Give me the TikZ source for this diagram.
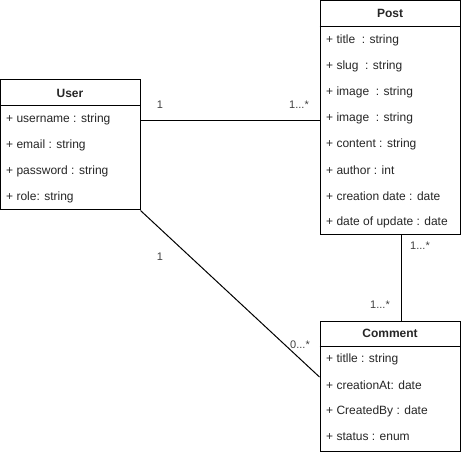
\documentclass[tikz,border=0pt]{standalone}
\usepackage{fontspec}
\setmainfont{Liberation Sans}
\begin{document}
\begin{tikzpicture}[x=1pt,y=-1pt,
  classbox/.style={draw=black,line width=1pt,fill=white,inner sep=0pt},
  classname/.style={font=\fontsize{12}{14}\selectfont\bfseries,text=black!85,inner sep=0pt},
  attr/.style={font=\fontsize{12}{14}\selectfont,text=black!85,anchor=west,inner sep=0pt},
  mult/.style={font=\fontsize{11}{13}\selectfont,text=black!75,inner sep=0pt},
  assoc/.style={draw=black,line width=1pt}]
\useasboundingbox (0,0) rectangle (471,454);

% User class
\node[classbox,minimum width=139.5pt,minimum height=130pt] (user) at (70.25,145) {};
\node[classname] (userT) at (70,93) {User};
\draw[line width=1pt] (user.west |- 0,106) -- (user.east |- 0,106);
\node[attr] (u1) at (6,119) {+ username : string};
\node[attr] (u2) at (6,145) {+ email : string};
\node[attr] (u3) at (6,171) {+ password : string};
\node[attr] (u4) at (6,197) {+ role: string};

% Post class
\node[classbox,minimum width=140pt,minimum height=234pt] (post) at (390,118) {};
\node[classname] (postT) at (390,13.5) {Post};
\draw[line width=1pt] (post.west |- 0,27) -- (post.east |- 0,27);
\node[attr] (p1) at (326,40) {+ title \ : string};
\node[attr] (p2) at (326,66) {+ slug \ : string};
\node[attr] (p3) at (326,92) {+ image \ : string};
\node[attr] (p4) at (326,118) {+ image \ : string};
\node[attr] (p5) at (326,144) {+ content : string};
\node[attr] (p6) at (326,170) {+ author : int};
\node[attr] (p7) at (326,196) {+ creation date : date};
\node[attr] (p8) at (326,222) {+ date of update : date};

% Comment class
\node[classbox,minimum width=140pt,minimum height=130pt] (comment) at (390,386) {};
\node[classname] (commentT) at (390,333) {Comment};
\draw[line width=1pt] (comment.west |- 0,346) -- (comment.east |- 0,346);
\node[attr] (c1) at (326,359) {+ titlle : string};
\node[attr] (c2) at (326,385) {+ creationAt: date};
\node[attr] (c3) at (326,411) {+ CreatedBy : date};
\node[attr] (c4) at (326,437) {+ status : enum};

% Associations
\coordinate (upA) at (user.east |- 0,120.5);
\coordinate (upB) at (post.west |- 0,120.5);
\draw[assoc] (upA) -- (upB);
\coordinate (ucB) at (comment.west |- 0,377);
\draw[assoc] (user.south east) -- (ucB);
\coordinate (pcA) at (post.south -| 401,0);
\coordinate (pcB) at (comment.north -| 401,0);
\draw[assoc] (pcA) -- (pcB);

% Multiplicities
\node[mult] (m1) at (160,105) {1};
\node[mult] (m2) at (299,105) {1...*};
\node[mult] (m3) at (160,257) {1};
\node[mult] (m4) at (300,345) {0...*};
\node[mult] (m5) at (420,246) {1...*};
\node[mult] (m6) at (380,305) {1...*};
\end{tikzpicture}
\end{document}
